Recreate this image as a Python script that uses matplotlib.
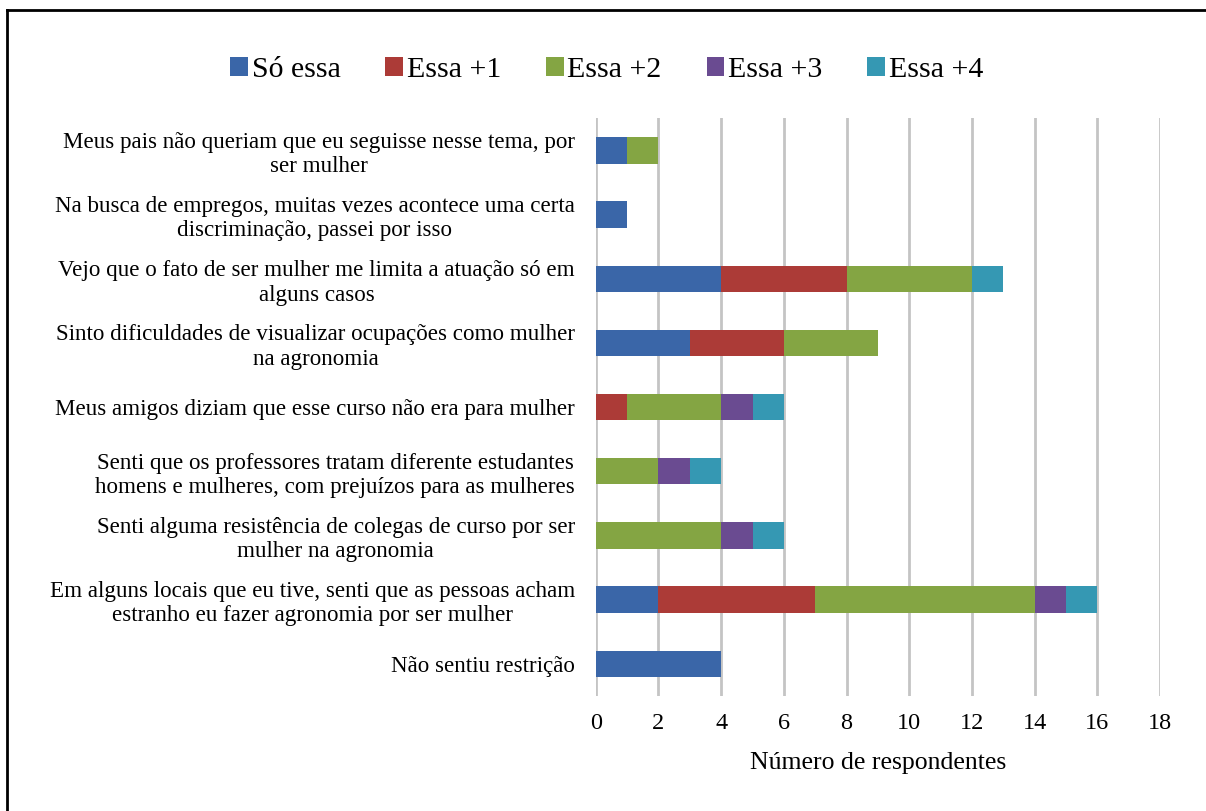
import matplotlib

matplotlib.use("Agg")
import matplotlib.pyplot as plt
from matplotlib.lines import Line2D
import numpy as np

plt.rcParams["font.family"] = ["Liberation Serif", "DejaVu Serif"]

categories = [
    "Meus pais não queriam que eu seguisse nesse tema, por\nser mulher",
    "Na busca de empregos, muitas vezes acontece uma certa\ndiscriminação, passei por isso",
    "Vejo que o fato de ser mulher me limita a atuação só em\nalguns casos",
    "Sinto dificuldades de visualizar ocupações como mulher\nna agronomia",
    "Meus amigos diziam que esse curso não era para mulher",
    "Senti que os professores tratam diferente estudantes\nhomens e mulheres, com prejuízos para as mulheres",
    "Senti alguma resistência de colegas de curso por ser\nmulher na agronomia",
    "Em alguns locais que eu tive, senti que as pessoas acham\nestranho eu fazer agronomia por ser mulher",
    "Não sentiu restrição",
]
series = ["Só essa", "Essa +1", "Essa +2", "Essa +3", "Essa +4"]
so_essa = [1, 1, 4, 3, 0, 0, 0, 2, 4]
essa_1 = [0, 0, 4, 3, 1, 0, 0, 5, 0]
essa_2 = [1, 0, 4, 3, 3, 2, 4, 7, 0]
essa_3 = [0, 0, 0, 0, 1, 1, 1, 1, 0]
essa_4 = [0, 0, 1, 0, 1, 1, 1, 1, 0]
colors = ["#3A66A8", "#AC3B37", "#84A543", "#6A4B91", "#3598B3"]

fig = plt.figure(figsize=(12.06, 8.11), dpi=100)
ax = fig.add_axes([0.494, 0.142, 0.468, 0.712])

y = np.arange(len(categories))
left = np.zeros(len(categories))
for name, vals, c in zip(series, [so_essa, essa_1, essa_2, essa_3, essa_4], colors):
    vals = np.array(vals, dtype=float)
    ax.barh(y, vals, 0.41, left=left, color=c, label=name, zorder=3)
    left += vals

ax.set_xlim(0, 18)
ax.set_ylim(len(categories) - 0.5, -0.5)
ax.set_xticks(np.arange(0, 19, 2))
ax.set_yticks(y)
ax.set_yticklabels(categories, fontsize=16.6, multialignment="center")
ax.tick_params(axis="y", length=0, pad=15)
ax.tick_params(axis="x", length=0, pad=12, labelsize=17.5)
ax.grid(axis="x", color="#C4C4C4", linewidth=2, zorder=0)
for s in ax.spines.values():
    s.set_visible(False)
ax.set_xlabel("Número de respondentes", fontsize=18.5, labelpad=13)

fig.legend(loc="center", bbox_to_anchor=(0.503, 1 - 70 / 811), ncol=5,
           frameon=False, fontsize=21.5, handlelength=0.6, handleheight=0.6,
           handletextpad=0.12, columnspacing=1.5)

# border lines on left and top only
fig.add_artist(Line2D([6.5 / 1206, 6.5 / 1206], [0, 1 - 9.5 / 811],
                      transform=fig.transFigure, color="black", linewidth=2))
fig.add_artist(Line2D([6.5 / 1206, 1], [1 - 9.5 / 811, 1 - 9.5 / 811],
                      transform=fig.transFigure, color="black", linewidth=2))

fig.savefig("out.png", dpi=100)
